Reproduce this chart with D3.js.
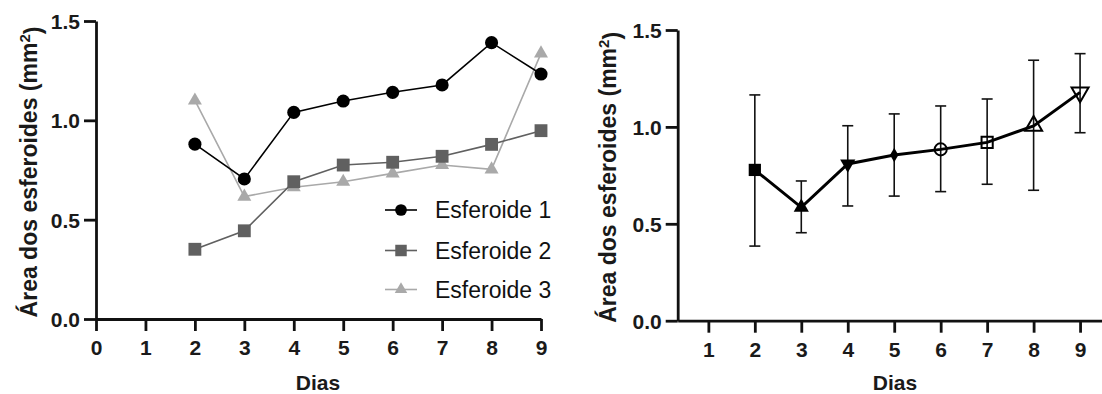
<!DOCTYPE html>
<html>
<head>
<meta charset="utf-8">
<script src="https://cdn.jsdelivr.net/npm/d3@7"></script>
<style>
  html, body { margin: 0; padding: 0; background: #fff; }
  svg { display: block; font-family: "Liberation Sans", Arial, sans-serif; }
</style>
</head>
<body>
<svg id="chart" width="1102" height="394"></svg>
<script>
// left panel: three spheroids
const days = [2, 3, 4, 5, 6, 7, 8, 9];
const esferoide1 = [0.88, 0.705, 1.04, 1.097, 1.141, 1.178, 1.391, 1.233];
const esferoide2 = [0.351, 0.444, 0.691, 0.775, 0.789, 0.819, 0.879, 0.948];
const esferoide3 = [1.10, 0.616, 0.663, 0.691, 0.733, 0.775, 0.753, 1.337];
const seriesNames = ['Esferoide 1', 'Esferoide 2', 'Esferoide 3'];

// right panel: mean with error bars
const meanArea = [0.778, 0.585, 0.809, 0.855, 0.884, 0.920, 1.005, 1.178];
const errHigh  = [1.165, 0.721, 1.006, 1.067, 1.108, 1.144, 1.344, 1.378];
const errLow   = [0.385, 0.454, 0.592, 0.643, 0.666, 0.704, 0.673, 0.970];

const leftTicksX  = [0, 1, 2, 3, 4, 5, 6, 7, 8, 9];
const rightTicksX = [1, 2, 3, 4, 5, 6, 7, 8, 9];
const ticksY = [0, 0.5, 1.0, 1.5];

const svg = d3.select('#chart');
const AXIS_W = 2.8;

function styleAxis(g) {
    g.select('.domain').attr('stroke', '#111').attr('stroke-width', AXIS_W);
    g.selectAll('.tick line').attr('stroke', '#111').attr('stroke-width', AXIS_W);
    g.selectAll('.tick text')
        .attr('fill', '#1a1a1a')
        .style('font-size', '21px')
        .style('font-weight', 'bold');
}

function drawAxes(x, y, ticksX, yTitleX, xTitleX) {
    const [y0] = y.range();
    const [x0] = x.range();
    svg.append('g')
        .attr('transform', `translate(0,${y0})`)
        .call(d3.axisBottom(x).tickValues(ticksX).tickFormat(d3.format('d'))
            .tickSize(12).tickSizeOuter(0).tickPadding(9))
        .call(styleAxis);
    svg.append('g')
        .attr('transform', `translate(${x0},0)`)
        .call(d3.axisLeft(y).tickValues(ticksY).tickFormat(d3.format('.1f'))
            .tickSize(12).tickSizeOuter(0).tickPadding(4))
        .call(styleAxis)
        .selectAll('.tick text').attr('dy', '0.36em');

    // axis titles
    svg.append('text')
        .attr('x', xTitleX).attr('y', 390)
        .attr('text-anchor', 'middle')
        .attr('fill', '#1a1a1a')
        .style('font-size', '21px').style('font-weight', 'bold')
        .text('Dias');
    const yt = svg.append('text')
        .attr('transform', `translate(${yTitleX},${(y.range()[0] + y.range()[1]) / 2 + 2}) rotate(-90)`)
        .attr('text-anchor', 'middle')
        .attr('fill', '#1a1a1a')
        .style('font-size', '23px').style('font-weight', 'bold');
    yt.append('tspan').text('Área dos esferoides (mm');
    yt.append('tspan').attr('dy', '-0.45em').style('font-size', '15px').text('2');
    yt.append('tspan').attr('dy', '0.45em').text(')');
}

// ---------- left panel ----------
const xL = d3.scaleLinear().domain([0, 9]).range([96, 541]);
const yL = d3.scaleLinear().domain([0, 1.5]).range([319, 21]);

const leftSeries = [
    { name: seriesNames[0], values: esferoide1, color: '#000000', symbol: d3.symbolCircle,   size: 135 },
    { name: seriesNames[1], values: esferoide2, color: '#606060', symbol: d3.symbolSquare,   size: 165 },
    { name: seriesNames[2], values: esferoide3, color: '#a9a9a9', symbol: d3.symbolTriangle, size: 85 }
];

drawAxes(xL, yL, leftTicksX, 37, 318);

const lineL = d3.line().x((d, i) => xL(days[i])).y(d => yL(d));
// draw in reverse so series 1 sits on top
leftSeries.slice().reverse().forEach(s => {
    svg.append('path')
        .datum(s.values)
        .attr('fill', 'none')
        .attr('stroke', s.color)
        .attr('stroke-width', 1.6)
        .attr('d', lineL);
    svg.append('g').selectAll('path')
        .data(s.values)
        .join('path')
        .attr('transform', (d, i) => `translate(${xL(days[i])},${yL(d)})`)
        .attr('fill', s.color)
        .attr('d', d3.symbol(s.symbol, s.size));
});

// legend
const legendY = [210, 250.5, 289.5];
leftSeries.forEach((s, i) => {
    const g = svg.append('g').attr('transform', `translate(385,${legendY[i]})`);
    g.append('line').attr('x1', 0).attr('x2', 32)
        .attr('stroke', s.color).attr('stroke-width', 1.6);
    g.append('path').attr('transform', 'translate(16,0)')
        .attr('fill', s.color)
        .attr('d', d3.symbol(s.symbol, s.size * 0.8));
    g.append('text').attr('x', 50).attr('y', 8)
        .attr('fill', '#111')
        .style('font-size', '23px')
        .text(s.name);
});

// ---------- right panel ----------
const xR = d3.scaleLinear().domain([0.34, 9.5]).range([677.7, 1103.3]);
const yR = d3.scaleLinear().domain([0, 1.5]).range([320.7, 30]);

drawAxes(xR, yR, rightTicksX, 616, 895);

// error bars
const eb = svg.append('g').attr('stroke', '#111').attr('stroke-width', 1.6);
days.forEach((d, i) => {
    const cx = xR(d);
    eb.append('line').attr('x1', cx).attr('x2', cx)
        .attr('y1', yR(errLow[i])).attr('y2', yR(errHigh[i]));
    [errLow[i], errHigh[i]].forEach(v => {
        eb.append('line').attr('x1', cx - 5.5).attr('x2', cx + 5.5)
            .attr('y1', yR(v)).attr('y2', yR(v));
    });
});

svg.append('path')
    .datum(meanArea)
    .attr('fill', 'none')
    .attr('stroke', '#000')
    .attr('stroke-width', 3)
    .attr('d', d3.line().x((d, i) => xR(days[i])).y(d => yR(d)));

// marker for each day
const markers = [
    { symbol: d3.symbolSquare,   size: 150, filled: true,  rot: 0 },
    { symbol: d3.symbolTriangle, size: 100, filled: true,  rot: 0 },
    { symbol: d3.symbolTriangle, size: 100, filled: true,  rot: 180 },
    { symbol: d3.symbolDiamond,  size: 60,  filled: true,  rot: 0 },
    { symbol: d3.symbolCircle,   size: 115, filled: false, rot: 0 },
    { symbol: d3.symbolSquare,   size: 125, filled: false, rot: 0 },
    { symbol: d3.symbolTriangle, size: 125, filled: false, rot: 0 },
    { symbol: d3.symbolTriangle, size: 125, filled: false, rot: 180 }
];
svg.append('g').selectAll('path')
    .data(meanArea)
    .join('path')
    .attr('transform', (d, i) => `translate(${xR(days[i])},${yR(d)}) rotate(${markers[i].rot})`)
    .attr('fill', (d, i) => markers[i].filled ? '#000' : 'none')
    .attr('stroke', '#000')
    .attr('stroke-width', (d, i) => markers[i].filled ? 0 : 2)
    .attr('d', (d, i) => d3.symbol(markers[i].symbol, markers[i].size)());
</script>
</body>
</html>
